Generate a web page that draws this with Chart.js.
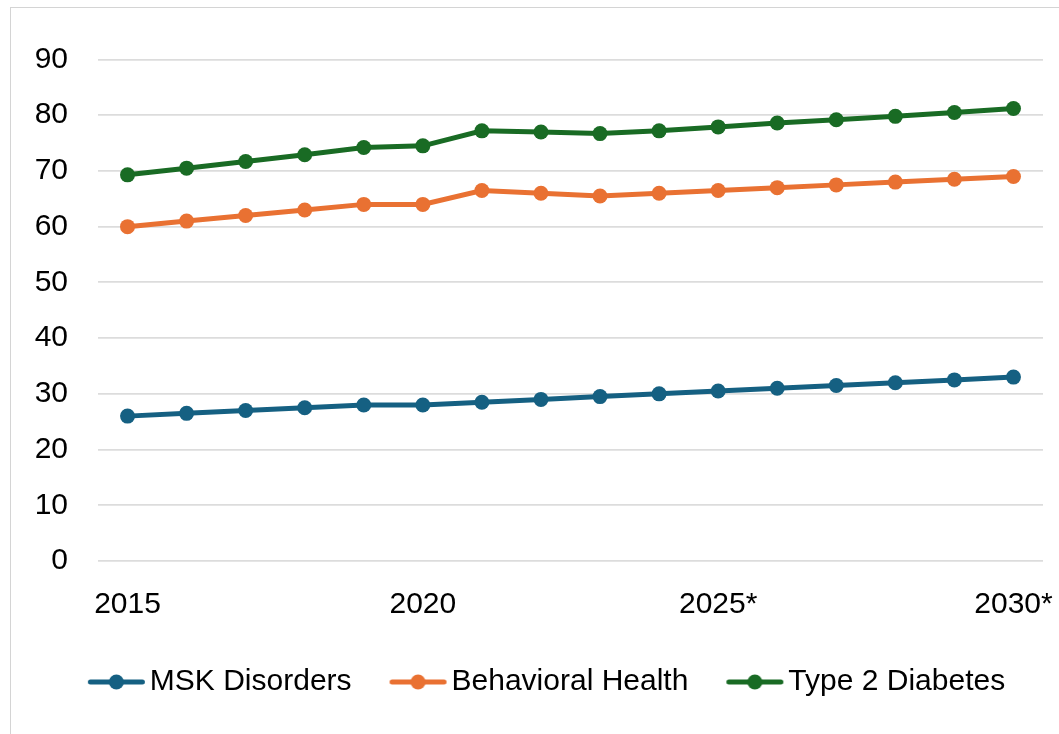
<!DOCTYPE html>
<html>
<head>
<meta charset="utf-8">
<script src="https://cdn.jsdelivr.net/npm/chart.js@4/dist/chart.umd.min.js"></script>
<style>
  html, body { margin: 0; padding: 0; background: #fff; overflow: hidden; }
  #frame { position: absolute; left: 10px; top: 7px; width: 1200px; height: 900px; border: 1.5px solid #d4d4d4; box-sizing: border-box; }
  #wrap { position: absolute; left: 0; top: 0; width: 1059px; height: 707px; }
</style>
</head>
<body>
<div id="frame"></div>
<div id="wrap"><canvas id="chart"></canvas></div>
<script>
// Years on the category axis (projections marked with *)
const years = ['2015', '2016', '2017', '2018', '2019', '2020', '2021', '2022', '2023', '2024',
               '2025*', '2026*', '2027*', '2028*', '2029*', '2030*'];

// Series values
const mskDisorders     = [26, 26.5, 27, 27.5, 28, 28, 28.5, 29, 29.5, 30, 30.5, 31, 31.5, 32, 32.5, 33];
const behavioralHealth = [60, 61, 62, 63, 64, 64, 66.5, 66, 65.5, 66, 66.5, 67, 67.5, 68, 68.5, 69];
const type2Diabetes    = [69.3, 70.5, 71.7, 72.9, 74.2, 74.5, 77.2, 77, 76.7, 77.2, 77.9, 78.6, 79.2, 79.8, 80.5, 81.2];

// Y axis range
const yMin = 0, yMax = 90, yStep = 10;

const seriesNames  = ['MSK Disorders', 'Behavioral Health', 'Type 2 Diabetes'];
const seriesColors = ['#156082', '#E97132', '#196B24'];

const FONT = "'Liberation Sans', Arial, sans-serif";
const FS = 30;

// Legend symbol: a short line with a dot in its middle (left part of the image is empty)
function makeLegendIcon(color) {
  const c = document.createElement('canvas');
  c.width = 89; c.height = 20;
  const g = c.getContext('2d');
  g.strokeStyle = color;
  g.lineWidth = 5;
  g.lineCap = 'round';
  g.beginPath();
  g.moveTo(33.5, 10);
  g.lineTo(85.5, 10);
  g.stroke();
  g.fillStyle = color;
  g.beginPath();
  g.arc(59.5, 10, 7.5, 0, Math.PI * 2);
  g.fill();
  return c;
}
const legendIcons = seriesColors.map(makeLegendIcon);

const seriesData = [mskDisorders, behavioralHealth, type2Diabetes];

new Chart(document.getElementById('chart'), {
  type: 'line',
  data: {
    labels: years,
    datasets: seriesData.map((d, i) => ({
      label: seriesNames[i],
      data: d,
      borderColor: seriesColors[i],
      backgroundColor: seriesColors[i],
      borderWidth: 5,
      pointRadius: 7.5,
      pointHoverRadius: 7.5,
      pointBorderWidth: 0,
      pointBackgroundColor: seriesColors[i],
      tension: 0,
      fill: false
    }))
  },
  options: {
    responsive: true,
    maintainAspectRatio: false,
    animation: false,
    layout: { padding: { top: 59.5, left: 30, right: 16, bottom: 0 } },
    plugins: {
      tooltip: { enabled: false },
      legend: {
        position: 'bottom',
        align: 'center',
        labels: {
          usePointStyle: true,
          pointStyleWidth: 67,
          padding: 18,
          color: '#000',
          font: { family: FONT, size: FS },
          generateLabels(chart) {
            const items = Chart.defaults.plugins.legend.labels.generateLabels(chart);
            items.forEach((it, i) => { it.pointStyle = legendIcons[i]; });
            return items;
          }
        }
      }
    },
    scales: {
      x: {
        offset: true,
        grid: { display: false, drawTicks: false },
        border: { display: false },
        ticks: {
          autoSkip: false,
          maxRotation: 0,
          minRotation: 0,
          padding: -16,
          color: '#000',
          font: { family: FONT, size: FS, lineHeight: 120 / 30 },
          callback: (v, i) => (i % 5 === 0 ? years[i] : '')
        }
      },
      y: {
        min: yMin,
        max: yMax,
        afterFit(scale) { scale.width = 68; },
        grid: { color: '#dcdcdc', lineWidth: 1.8, drawTicks: false },
        border: { display: false },
        ticks: {
          stepSize: yStep,
          padding: 30,
          color: '#000',
          font: { family: FONT, size: FS }
        }
      }
    }
  }
});
</script>
</body>
</html>
